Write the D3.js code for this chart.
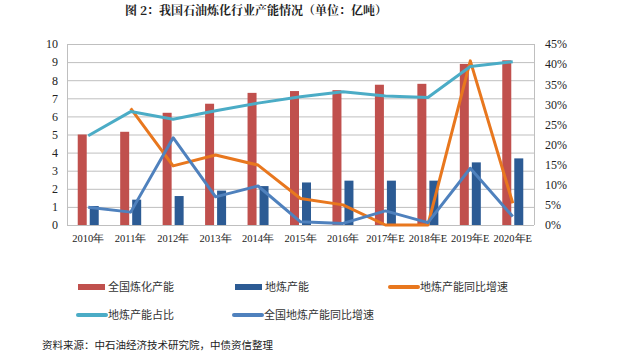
<!DOCTYPE html>
<html><head><meta charset="utf-8">
<script src="https://cdn.jsdelivr.net/npm/d3@7"></script>
<style>body{margin:0;background:#fff}svg{display:block}</style>
</head><body>
<svg id="c" width="640" height="358"></svg>
<script>
const categories = ["2010年","2011年","2012年","2013年","2014年","2015年","2016年","2017年E","2018年E","2019年E","2020年E"];
const totalCap = [5.0,5.15,6.2,6.7,7.3,7.4,7.45,7.75,7.8,8.9,9.1];
const localCap = [1.05,1.4,1.6,1.9,2.15,2.35,2.45,2.45,2.45,3.46,3.68];
const localGrowth = [null,29.0,14.7,17.4,14.9,6.6,5.0,0,0,40.8,5.4];
const localShare = [22.2,28.2,26.3,28.4,30.3,31.9,33.1,32.1,31.7,39.4,40.6];
const natLocalGrowth = [4.4,3.2,21.7,7.0,9.7,0.8,0.4,3.5,0.6,14.1,2.1];
const leftTicks = [0,1,2,3,4,5,6,7,8,9,10];
const rightTicks = [0,5,10,15,20,25,30,35,40,45];

const svg = d3.select("#c");
const L=67,R=534,T=44,B=225;
const x = d3.scaleBand().domain(categories).range([L,R]);
const yL = d3.scaleLinear().domain([0,10]).range([B,T]);
const yR = d3.scaleLinear().domain([0,45]).range([B,T]);
const serif = "'Liberation Serif','DejaVu Serif',serif";
const cjk = "'Noto Sans CJK SC',sans-serif";

svg.append("text").attr("x",256).attr("y",15).attr("text-anchor","middle")
  .attr("font-family","'Noto Serif CJK SC','Noto Sans CJK SC',sans-serif").attr("font-weight","bold")
  .attr("font-size",12).attr("fill","#222").text("图 2：我国石油炼化行业产能情况（单位：亿吨）");

// grid
svg.append("g").selectAll("line").data(leftTicks).join("line")
  .attr("x1",L).attr("x2",R).attr("y1",d=>yL(d)+0.5).attr("y2",d=>yL(d)+0.5)
  .attr("stroke","#bfbfbf").attr("stroke-width",1);
svg.append("line").attr("x1",L+0.5).attr("x2",L+0.5).attr("y1",T).attr("y2",B).attr("stroke","#bfbfbf");
svg.append("line").attr("x1",R+0.5).attr("x2",R+0.5).attr("y1",T).attr("y2",B).attr("stroke","#bfbfbf");

// axes
const axL = svg.append("g").attr("transform",`translate(${L},0)`)
  .call(d3.axisLeft(yL).tickValues(leftTicks).tickSize(0).tickPadding(9));
const axR = svg.append("g").attr("transform",`translate(${R},0)`)
  .call(d3.axisRight(yR).tickValues(rightTicks).tickFormat(d=>d+"%").tickSize(0).tickPadding(11));
const axX = svg.append("g").attr("transform",`translate(0,${B})`)
  .call(d3.axisBottom(x).tickSize(0).tickPadding(10));
[axL,axR,axX].forEach(a=>{a.select(".domain").remove();
  a.selectAll("text").attr("font-family",serif).attr("fill","#222");});
axL.selectAll("text").attr("font-size",12);
axR.selectAll("text").attr("font-size",12);
axX.selectAll("text").attr("font-size",10.5);

// bars
const bw=9, gap=1.5;
svg.append("g").selectAll("rect").data(totalCap).join("rect")
  .attr("x",(d,i)=>x(categories[i])+x.bandwidth()/2-gap-bw).attr("width",bw)
  .attr("y",d=>yL(d)).attr("height",d=>B-yL(d)).attr("fill","#c0504d");
svg.append("g").selectAll("rect").data(localCap).join("rect")
  .attr("x",(d,i)=>x(categories[i])+x.bandwidth()/2+gap).attr("width",bw)
  .attr("y",d=>yL(d)).attr("height",d=>B-yL(d)).attr("fill","#2c5b94");

function drawLine(vals,color){
  const line=d3.line().defined(d=>d!=null)
    .x((d,i)=>x(categories[i])+x.bandwidth()/2).y(d=>yR(d));
  svg.append("path").datum(vals).attr("d",line).attr("fill","none")
    .attr("stroke",color).attr("stroke-width",3).attr("stroke-linejoin","round");
}
drawLine(localGrowth,"#e8771e");
drawLine(localShare,"#4bacc6");
drawLine(natLocalGrowth,"#4f81bd");

// legend
const leg=[
  {name:"全国炼化产能",type:"rect",color:"#c0504d",x:78,y:287},
  {name:"地炼产能",type:"rect",color:"#2c5b94",x:235,y:287},
  {name:"地炼产能同比增速",type:"line",color:"#e8771e",x:390,y:287},
  {name:"地炼产能占比",type:"line",color:"#4bacc6",x:78,y:315},
  {name:"全国地炼产能同比增速",type:"line",color:"#4f81bd",x:234,y:315}
];
const lg=svg.append("g");
leg.forEach(d=>{
  if(d.type==="rect") lg.append("rect").attr("x",d.x).attr("y",d.y-3).attr("width",27).attr("height",6).attr("fill",d.color);
  else lg.append("line").attr("x1",d.x).attr("x2",d.x+28).attr("y1",d.y).attr("y2",d.y)
    .attr("stroke",d.color).attr("stroke-width",4).attr("stroke-linecap","round");
  lg.append("text").attr("x",d.x+30).attr("y",d.y+4).attr("font-family",cjk)
    .attr("font-size",11).attr("fill","#333").text(d.name);
});

svg.append("text").attr("x",42).attr("y",349).attr("font-family",cjk).attr("font-size",10.5)
  .attr("fill","#222").text("资料来源：中石油经济技术研究院，中债资信整理");
</script>
</body></html>
